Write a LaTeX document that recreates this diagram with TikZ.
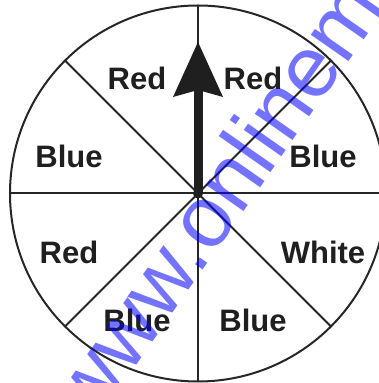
\documentclass[tikz,border=0pt]{standalone}
\usepackage{fontspec}
\setmainfont{Liberation Sans}
\begin{document}
\begin{tikzpicture}[x=1pt,y=1pt,
  spoke/.style={line width=2pt, draw=black!85},
  lab/.style={font=\fontsize{31}{31}\selectfont\bfseries, text=black!88, inner sep=0pt},
  wmark/.style={font=\fontsize{87}{87}\selectfont, text=blue, text opacity=0.55, inner sep=0pt, rotate=55, anchor=base west}]
\useasboundingbox (0,0) rectangle (379,383);
\clip (0,0) rectangle (379,383);
\coordinate (c) at (198,189.5);
\foreach \a in {0,45,...,315} { \draw[spoke] (c) -- ++(\a:188); }
\draw[spoke] (c) circle[radius=188];
% arrow
\coordinate (tip) at (198,341);
\coordinate (base) at (198,293);
\draw[line width=9pt, black!88] (c) -- (base);
\fill[black!88] (tip) -- (173,286) -- (base) -- (223,286) -- cycle;
\fill[black!88] (c) circle[radius=5];
% labels
\node[lab] (r1) at (137,305) {Red};
\node[lab] (r2) at (253,305) {Red};
\node[lab] (b1) at (69,227) {Blue};
\node[lab] (b2) at (323,227) {Blue};
\node[lab] (r3) at (69,131) {Red};
\node[lab] (w1) at (323,131) {White};
\node[lab] (b3) at (137,63) {Blue};
\node[lab] (b4) at (253,63) {Blue};
% watermark
\node[wmark] (wm) at (93,-44) {www.onlinemath4all.com};
\end{tikzpicture}
\end{document}
